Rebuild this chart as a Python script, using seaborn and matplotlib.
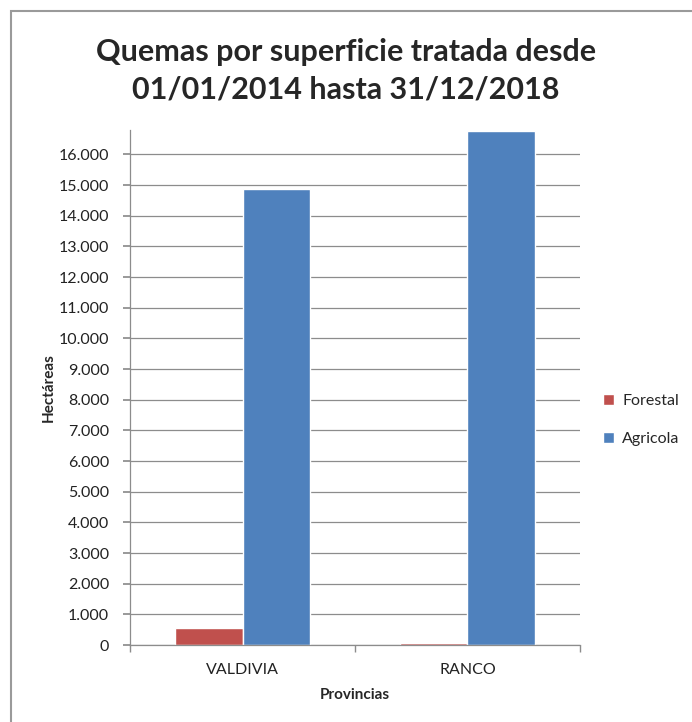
import pandas as pd
import matplotlib.pyplot as plt
import seaborn as sns
from matplotlib.patches import Rectangle
from matplotlib.ticker import FuncFormatter, MultipleLocator

# --- Datos ---
provincias = ["VALDIVIA", "RANCO"]
forestal = [560, 70]
agricola = [14860, 16780]
series = ["Forestal", "Agricola"]
colores = ["#C0504D", "#4F81BD"]

df = pd.DataFrame({
    "Provincias": provincias * 2,
    "Tipo": [series[0]] * len(provincias) + [series[1]] * len(provincias),
    "Hectareas": forestal + agricola,
})

sns.set_theme(style="white")
plt.rcParams["font.family"] = ["Lato", "DejaVu Sans"]

fig = plt.figure(figsize=(6.92, 7.22), dpi=100)
ax = fig.add_axes([0.188, 0.1066, 0.650, 0.7134])

sns.barplot(data=df, x="Provincias", y="Hectareas", hue="Tipo",
            palette=colores, width=0.6, gap=0, saturation=1, ax=ax)

ax.set_xlim(-0.5, 1.5)
ax.set_ylim(0, 16800)
ax.yaxis.set_major_locator(MultipleLocator(1000))
ax.yaxis.set_major_formatter(FuncFormatter(lambda v, p: f"{int(v):,}".replace(",", ".")))
ax.grid(axis="y", color="#8c8c8c", linewidth=0.9)
ax.set_axisbelow(True)

for s in ["top", "right"]:
    ax.spines[s].set_visible(False)
for s in ["left", "bottom"]:
    ax.spines[s].set_color("#8c8c8c")
    ax.spines[s].set_linewidth(0.9)

ax.tick_params(axis="y", left=True, length=5, color="#8c8c8c", labelsize=11.5,
               labelcolor="#222222", pad=10)
ax.set_xticks([0, 1])
ax.set_xticklabels(provincias)
ax.set_xticks([-0.5, 0.5, 1.5], minor=True)
ax.tick_params(axis="x", which="major", bottom=False, labelsize=11.5,
               labelcolor="#222222", pad=7)
ax.tick_params(axis="x", which="minor", bottom=True, length=5, color="#8c8c8c")

ax.set_xlabel("Provincias", fontsize=11, fontweight="bold", labelpad=8)
ax.set_ylabel("Hectáreas", fontsize=11, fontweight="bold", labelpad=2)

fig.suptitle("Quemas por superficie tratada desde\n01/01/2014 hasta 31/12/2018",
             x=0.5, y=0.948, fontsize=22, fontweight="bold", linespacing=1.45)

leg = ax.legend(loc="center left", bbox_to_anchor=(1.02, 0.437), frameon=False,
                fontsize=11.5, handlelength=0.7, handleheight=0.7,
                handletextpad=0.5, labelspacing=1.5)

fig.patches.append(Rectangle((11 / 692, -10 / 722), 700 / 692, 721 / 722,
                             transform=fig.transFigure, fill=False,
                             edgecolor="#9a9a9a", linewidth=1.5))

fig.savefig("out.png", dpi=100)
